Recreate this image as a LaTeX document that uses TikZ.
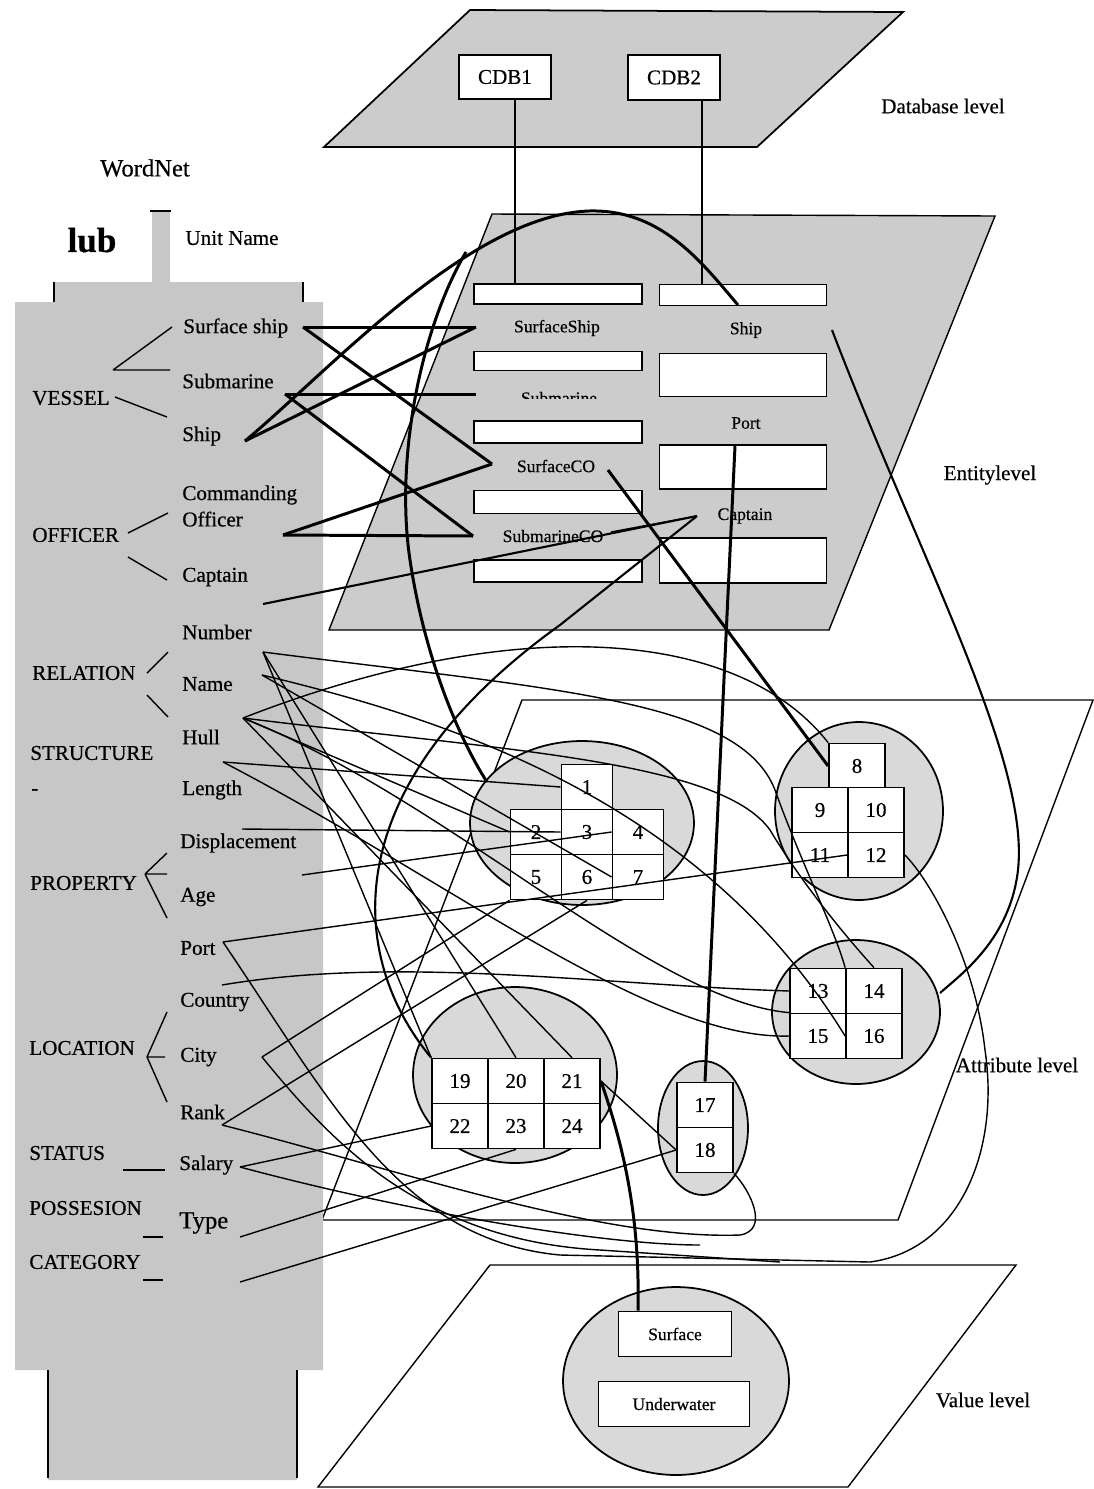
\documentclass[tikz,border=0pt]{standalone}
\usepackage{fontspec}
\setmainfont{Liberation Serif}[FakeBold=0.5]
\begin{document}
\begin{tikzpicture}[x=0.02cm,y=-0.02cm,
  gfill/.style={fill=black!20},
  efill/.style={fill=black!15},
  t12/.style={font=\fontsize{12}{15}\selectfont, inner sep=0pt},
  t10/.style={font=\fontsize{10}{12}\selectfont, inner sep=0pt},
  wn/.style={t12, anchor=west},
  capw/.style={t12, anchor=west},
  cellA/.style={draw, fill=white, line width=1pt, minimum width=1.02cm, minimum height=0.9cm, inner sep=0pt, font=\fontsize{12}{14}\selectfont},
  cellB/.style={cellA, minimum width=1.12cm},
  ebox/.style={draw, fill=white, line width=0.9pt, inner sep=0pt},
  tk/.style={line width=1.7pt},
  tm/.style={line width=1.2pt},
  tn/.style={line width=0.8pt},
  tree/.style={line width=0.8pt}
]
\useasboundingbox (0,0) rectangle (1094,1489);

% ---------- planes ----------
\draw[gfill, line width=1pt] (470,10) -- (903,12) -- (757,147) -- (324,147) -- cycle;
\draw[gfill, line width=0.8pt] (492,214) -- (995,216) -- (829,630) -- (329,630) -- cycle;
\draw[line width=0.8pt] (522,700) -- (1093,700) -- (898,1220) -- (322,1220) -- cycle;
\draw[line width=0.8pt] (490,1265) -- (1016,1265) -- (848,1487) -- (318,1487) -- cycle;

% ---------- WordNet column ----------
\fill[black!22] (15,302) -- (323,302) -- (323,1370) -- (297,1370) -- (297,1480) -- (48,1480) -- (48,1370) -- (15,1370) -- cycle;
\fill[black!22] (54,282) rectangle (303,302);
\fill[black!22] (152,211) rectangle (170,282);
\draw[line width=1.2pt] (54,282) -- (54,302) (303,282) -- (303,302);
\draw[line width=1.2pt] (150,211) -- (171,211);
\draw[line width=1.2pt] (48,1370) -- (48,1478) (297,1370) -- (297,1478);

% ---------- database level ----------
\node[draw, fill=white, line width=1pt, minimum width=1.84cm, minimum height=0.88cm, t12] (cdb1) at (505,77) {CDB1};
\node[draw, fill=white, line width=1pt, minimum width=1.84cm, minimum height=0.9cm, t12] (cdb2) at (674,77.5) {CDB2};

% ---------- entity level boxes ----------
\node[ebox, minimum width=3.36cm, minimum height=0.4cm] (eL1) at (558,294) {};
\node[ebox, minimum width=3.36cm, minimum height=0.38cm] (eL2) at (558,361) {};
\node[ebox, minimum width=3.36cm, minimum height=0.44cm] (eL3) at (558,432) {};
\node[ebox, minimum width=3.36cm, minimum height=0.46cm] (eL4) at (558,502) {};
\node[ebox, minimum width=3.36cm, minimum height=0.44cm] (eL5) at (558,571) {};
\node[ebox, minimum width=3.34cm, minimum height=0.42cm] (eR1) at (743,295) {};
\node[ebox, minimum width=3.34cm, minimum height=0.86cm] (eR2) at (743,375) {};
\node[ebox, minimum width=3.34cm, minimum height=0.88cm] (eR3) at (743,467) {};
\node[ebox, minimum width=3.34cm, minimum height=0.9cm] (eR4) at (743,560.5) {};
\node[t10] (eSS) at (557,328) {SurfaceShip};
\begin{scope}
\clip (470,380) rectangle (650,398);
\node[t10] (eSub) at (559,398) {Submarine};
\end{scope}
\node[t10] (eSCO) at (556,466) {SurfaceCO};
\node[t10] (eSubCO) at (553,536) {SubmarineCO};
\node[t10] (eShip) at (746,330) {Ship};
\node[t10] (ePort) at (746,423) {Port};
\node[t10] (eCap) at (745,516) {Captain};

\draw[line width=0.9pt] ([xshift=0.2cm]cdb1.south) -- ([xshift=0.2cm]cdb1.south |- eL1.north);
\draw[line width=0.9pt] ([xshift=0.56cm]cdb2.south) -- ([xshift=0.56cm]cdb2.south |- eR1.north);

% ---------- attribute level ----------
\draw[efill, line width=1pt] (582,823) ellipse [x radius=2.24cm, y radius=1.64cm];
\draw[efill, line width=1pt] (859,811) ellipse [x radius=1.68cm, y radius=1.78cm];
\draw[efill, line width=1pt] (856,1012) ellipse [x radius=1.68cm, y radius=1.44cm];
\draw[efill, line width=1pt] (515,1075) ellipse [x radius=2.04cm, y radius=1.76cm];
\draw[efill, line width=1pt] (703,1128) ellipse [x radius=0.9cm, y radius=1.34cm];

\node[cellA] (c1) at (587,787) {1};
\node[cellA] (c2) at (536,832) {2};
\node[cellA] (c3) at (587,832) {3};
\node[cellA] (c4) at (638,832) {4};
\node[cellA] (c5) at (536,877) {5};
\node[cellA] (c6) at (587,877) {6};
\node[cellA] (c7) at (638,877) {7};
\node[cellB] (c8) at (857,766) {8};
\node[cellB] (c9) at (820,810) {9};
\node[cellB] (c10) at (876,810) {10};
\node[cellB] (c11) at (820,855) {11};
\node[cellB] (c12) at (876,855) {12};
\node[cellB] (c13) at (818,991) {13};
\node[cellB] (c14) at (874,991) {14};
\node[cellB] (c15) at (818,1036) {15};
\node[cellB] (c16) at (874,1036) {16};
\node[cellB] (c17) at (705,1105) {17};
\node[cellB] (c18) at (705,1150) {18};
\node[cellB] (c19) at (460,1081) {19};
\node[cellB] (c20) at (516,1081) {20};
\node[cellB] (c21) at (572,1081) {21};
\node[cellB] (c22) at (460,1126) {22};
\node[cellB] (c23) at (516,1126) {23};
\node[cellB] (c24) at (572,1126) {24};

% ---------- value level ----------
\draw[efill, line width=1pt] (676,1381) ellipse [x radius=2.26cm, y radius=1.88cm];
\node[draw, fill=white, line width=1pt, minimum width=2.26cm, minimum height=0.9cm, t10] (vS) at (675,1334) {Surface};
\node[draw, fill=white, line width=1pt, minimum width=3.02cm, minimum height=0.9cm, t10] (vU) at (674,1404) {Underwater};

% ---------- anchors ----------
\coordinate (aSS) at (303,327);
\coordinate (aSub) at (285,394);
\coordinate (aShip) at (245,441);
\coordinate (aOff) at (283,535);
\coordinate (aCap) at (263,604);
\coordinate (aNum) at (263,652);
\coordinate (aName) at (262,675);
\coordinate (aHull) at (243,718);
\coordinate (aLen) at (223,762);
\coordinate (aDisp) at (242,829);
\coordinate (aAge) at (302,875);
\coordinate (aPort) at (223,942);
\coordinate (aCountry) at (222,985);
\coordinate (aCity) at (262,1057);
\coordinate (aRank) at (222,1125);
\coordinate (aSal) at (240,1167);
\coordinate (aType) at (240,1237);
\coordinate (aCat) at (240,1282);
\coordinate (xSS) at (476,327);
\coordinate (xSub) at (476,394);
\coordinate (xSCO) at (492,464);
\coordinate (xSubCO) at (473,536);
\coordinate (xSCOr) at (608,470);
\coordinate (xSubCOr) at (611,532);
\coordinate (xShipTop) at (738,305);
\coordinate (xShipR) at (832,330);
\coordinate (xPort) at (735,446);
\coordinate (xCap) at (697,516);
\coordinate (arcA) at (466,252);

% ---------- connectors: WordNet -> entity ----------
\draw[tk] (aSS) -- (xSS);
\draw[tk] (aSS) -- (xSCO);
\draw[tk] (aSub) -- (xSub);
\draw[tk] (aSub) -- (xSubCO);
\draw[tk] (aOff) -- (xSubCO);
\draw[tk] (aOff) -- (xSCO);
\draw[tk] (aShip) -- (xSS);
\draw[tk] (aShip) .. controls (330,370) and (470,215) .. (589,211) .. controls (660,209) and (700,260) .. (xShipTop);
\draw[tm] (aCap) -- (xCap);
\draw[tn] (xSubCOr) -- (xCap);

% ---------- entity -> attribute ----------
\draw[tm] (xShipR) .. controls (920,560) and (1030,760) .. (1018,870) .. controls (1010,940) and (960,975) .. (940,993);
\draw[tk] (xSCOr) -- (c8.west);
\draw[tk] (xPort) -- (c17.north);
\draw[tk] (arcA) .. controls (420,330) and (395,460) .. (410,560) .. controls (425,660) and (460,740) .. (487,782);
\draw[tm] (xCap) -- (560,625) .. controls (330,790) and (350,960) .. (c19.north west);

% ---------- WordNet -> attribute ----------
\draw[tn] (aLen) -- (c1.west);
\draw[tn] (aDisp) -- (c3.west);
\draw[tn] (aAge) -- (c4.west);
\draw[tn] (aPort) -- (c12.west);
\draw[tn] (aPort) .. controls (330,1100) and (400,1240) .. (560,1255) -- (870,1262) .. controls (960,1250) and (1000,1150) .. (985,1050) .. controls (975,960) and (930,880) .. (c12.east);
\draw[tn] (aCountry) .. controls (400,955) and (600,985) .. (c13.west);
\draw[tn] (aCity) -- (c5.south west);
\draw[tn] (aRank) -- (c6.south);
\draw[tn] (aRank) .. controls (400,1170) and (600,1240) .. (740,1235) .. controls (770,1230) and (750,1190) .. (c18.south east);
\draw[tn] (aCity) .. controls (330,1140) and (420,1240) .. (600,1250) -- (780,1262);
\draw[tn] (aSal) -- (c22.west);
\draw[tn] (aSal) .. controls (400,1210) and (600,1245) .. (700,1245);
\draw[tn] (aType) -- (c23.south);
\draw[tn] (aCat) -- (c18.west);
\draw[tn] (c21.east) -- (c18.west);
\draw[tk] (c21.east) .. controls (625,1150) and (640,1220) .. (vS.north -| 638,0);

\draw[tn] (aNum) .. controls (560,690) and (740,700) .. (775,790) .. controls (800,860) and (835,930) .. (c14.north west);
\draw[tn] (aNum) -- (c19.north west);
\draw[tn] (aNum) -- (c20.north);
\draw[tn] (aName) -- (c7.west);
\draw[tn] (aName) .. controls (450,720) and (700,800) .. (c16.west);
\draw[tn] (aHull) .. controls (520,610) and (740,630) .. (c8.north west);
\draw[tn] (aHull) .. controls (500,750) and (720,760) .. (770,830) .. controls (800,880) and (840,930) .. (c14.north);
\draw[tn] (aHull) -- (c2.west);
\draw[tn] (aHull) .. controls (450,800) and (650,1000) .. (c15.north west);
\draw[tn] (aHull) -- (c21.north);
\draw[tn] (aLen) .. controls (450,880) and (650,1040) .. (c15.west);

% ---------- WordNet texts ----------
\node[font=\fontsize{14}{16}\selectfont, inner sep=0pt] (wnt) at (145,168) {WordNet};
\node[font=\fontsize{20}{22}\selectfont\bfseries, inner sep=0pt] (lub) at (92,240) {lub};
\node[t12] (unit) at (232,238) {Unit Name};

\node[wn] (wSS) at (183,328) {Surface ship};
\node[wn] (wSub) at (182,381) {Submarine};
\node[wn] (wShip) at (182,436) {Ship};
\node[wn, align=left] (wCO) at (182,506) {Commanding\\Officer};
\node[wn] (wCap) at (182,577) {Captain};
\node[wn] (wNum) at (182,632) {Number};
\node[wn] (wName) at (182,684) {Name};
\node[wn] (wHull) at (182,737) {Hull};
\node[wn] (wLen) at (182,790) {Length};
\node[wn] (wDisp) at (180,843) {Displacement};
\node[wn] (wAge) at (180,897) {Age};
\node[wn] (wPort) at (180,948) {Port};
\node[wn] (wCountry) at (180,1002) {Country};
\node[wn] (wCity) at (180,1057) {City};
\node[wn] (wRank) at (180,1112) {Rank};
\node[wn] (wSal) at (179,1165) {Salary};
\node[wn, font=\fontsize{14}{16}\selectfont] (wType) at (179,1223) {Type};

\node[capw] (kV) at (32,398) {VESSEL};
\node[capw] (kO) at (32,535) {OFFICER};
\node[capw] (kR) at (32,673) {RELATION};
\node[capw] (kS) at (30,753) {STRUCTURE};
\node[capw] (kD) at (31,792) {-};
\node[capw] (kP) at (30,883) {PROPERTY};
\node[capw] (kL) at (29,1048) {LOCATION};
\node[capw] (kSt) at (29,1153) {STATUS};
\node[capw] (kPo) at (29,1208) {POSSESION};
\node[capw] (kC) at (29,1262) {CATEGORY};

\draw[tree] (113,370) -- (172,327) (113,370) -- (170,370) (115,397) -- (167,417);
\draw[tree] (128,533) -- (168,513) (128,557) -- (167,580);
\draw[tree] (147,673) -- (168,652) (147,695) -- (168,717);
\draw[tree] (145,874) -- (167,853) (145,874) -- (167,874) (145,874) -- (167,918);
\draw[tree] (147,1057) -- (167,1012) (147,1057) -- (165,1057) (147,1057) -- (167,1102);
\draw[tree] (123,1170) -- (165,1170);
\draw[tree] (143,1237) -- (163,1237);
\draw[tree] (143,1280) -- (163,1280);

% ---------- level labels ----------
\node[t12] (lDB) at (943,106) {Database level};
\node[t12] (lEn) at (990,475) {Entitylevel};
\node[t12] (lAt) at (1017,1065) {Attribute level};
\node[t12] (lVa) at (983,1400) {Value level};
\end{tikzpicture}
\end{document}
